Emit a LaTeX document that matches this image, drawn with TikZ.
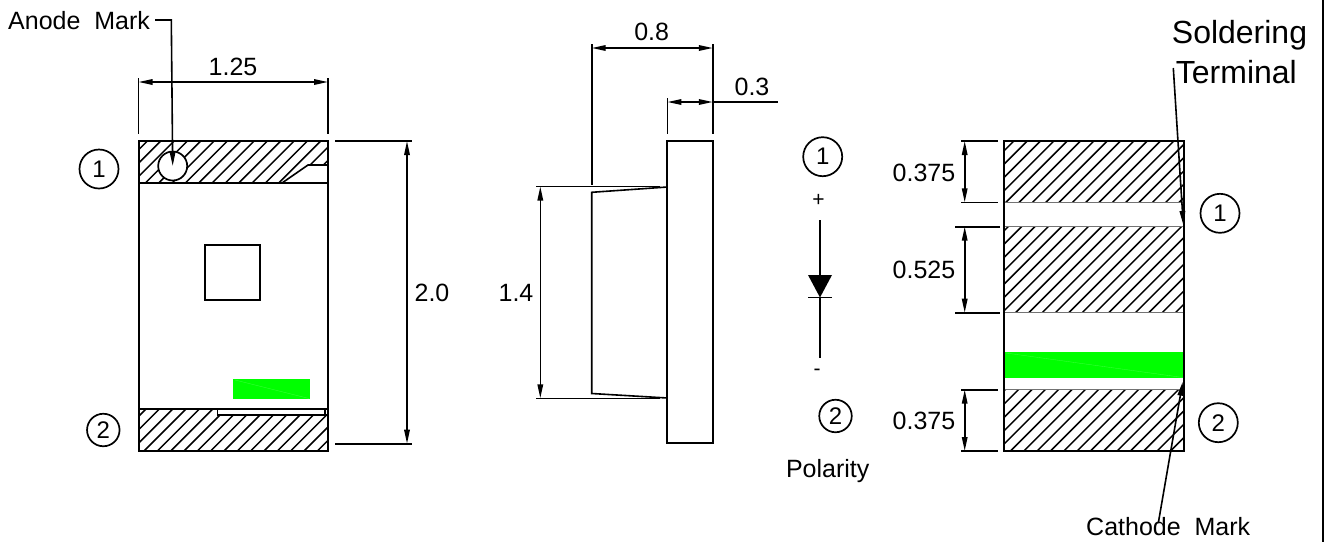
\documentclass[tikz,border=0pt]{standalone}
\usepackage{fontspec}
\setmainfont{Liberation Sans}[WordSpace=2]
\usetikzlibrary{arrows.meta}
\tikzset{
  x=1pt,y=-1pt,
  part/.style={line width=2pt,draw=black},
  thin part/.style={line width=1.6pt,draw=black},
  dim/.style={line width=1.6pt,draw=black},
  dimarrow/.style={dim,{Stealth[length=14pt,width=5.5pt,inset=0pt]}-{Stealth[length=14pt,width=5.5pt,inset=0pt]}},
  leader/.style={dim,-{Stealth[length=14pt,width=5.5pt,inset=0pt]}},
  hatchline/.style={line width=1.5pt,black},
  label/.style={font=\fontsize{25}{25}\selectfont,inner sep=0pt,anchor=base,text=black},
  big/.style={font=\fontsize{32}{32}\selectfont,inner sep=0pt,anchor=base west,text=black},
  ball/.style={circle,draw=black,line width=1.7pt,inner sep=0pt,font=\fontsize{24}{24}\selectfont,text=black},
  stripe/.style={fill=green1,draw=none},
  seam/.style={line width=.3pt,draw=green1!75!white},
}
\definecolor{green1}{RGB}{0,255,0}
\newcommand{\hatchzone}[1]{\begin{scope}\clip #1;
  \foreach \k in {20,...,125}{\draw[hatchline] ({\k*13.33+8.5},0) -- (0,{\k*13.33+8.5});}
\end{scope}}
\begin{document}
\begin{tikzpicture}
\useasboundingbox (0,0) rectangle (1328,542);
\fill[white] (0,0) rectangle (1328,542);

% ---------- left view ----------
\hatchzone{(138.5,141) -- (328,141) -- (328,165) -- (308,165) -- (282,183) -- (138.5,183) -- cycle}
\hatchzone{(138.5,409) -- (217.5,409) -- (217.5,415) -- (328,415) -- (328,451) -- (138.5,451) -- cycle}
\draw[part] (138.5,141) rectangle (328,451);
\draw[part] (138.5,183) -- (328,183);
\draw[part] (138.5,409) -- (328,409);
\draw[thin part] (282,183) -- (308,165) -- (328,165);
\draw[thin part] (217.5,409) -- (217.5,415) -- (328,415);
\draw[thin part] (325,409) -- (325,415);
\draw[thin part] (205,245) rectangle (260,300);
\path[stripe] (233,379) rectangle (310,399.3);
\draw[seam] (235,380) -- (309,398.5);
\node[ball,fill=white,minimum size=29pt] (mark) at (172.7,166) {};
\node[ball,minimum size=39pt] (a1) at (99,169) {1};
\node[ball,minimum size=32.5pt] (a2) at (103.3,430) {2};

\node[label,anchor=base west] (anode) at (8,29.3) {Anode Mark};
\coordinate (anodeT) at (155,20);
\coordinate (anodeK) at (171.3,20);
\coordinate (anodeE) at (172.7,166);
\draw[leader] (anodeT) -- (anodeK) -- (anodeE);

\node[label] (w) at (233,75) {1.25};
\coordinate (wL) at (138.5,82);
\coordinate (wR) at (328,82);
\draw[dim] (138.5,78) -- (138.5,134);
\draw[dim] (328,78) -- (328,134);
\draw[dimarrow] (wL) -- (wR);

\coordinate (hT) at (407,141);
\coordinate (hB) at (407,443.7);
\draw[dim] (335,141) -- (412,141);
\draw[dim] (335,443.7) -- (412,443.7);
\draw[dimarrow] (hT) -- (hB);
\node[label] (h) at (432,301) {2.0};

% ---------- side view ----------
\draw[part] (667.4,141.3) rectangle (712.8,443.3);
\draw[thin part] (667.4,187) -- (591.7,192.3) -- (591.7,393.5) -- (667.4,398);
\draw[dim] (536,186.5) -- (660,186.5);
\draw[dim] (536,398.3) -- (660,398.3);
\coordinate (lT) at (540.3,186.5);
\coordinate (lB) at (540.3,398.3);
\draw[dimarrow] (lT) -- (lB);
\node[label] (l) at (516,301.7) {1.4};

\draw[dim] (591.7,44) -- (591.7,185);
\draw[dim] (712.8,44) -- (712.8,134);
\coordinate (dL) at (591.7,48);
\coordinate (dR) at (712.8,48);
\draw[dimarrow] (dL) -- (dR);
\node[label] (d) at (651.7,40) {0.8};

\draw[dim] (667.4,98) -- (667.4,134);
\coordinate (tL) at (667.4,102);
\coordinate (tR) at (712.8,102);
\coordinate (tE) at (778,102);
\draw[dimarrow] (tL) -- (tR);
\draw[dim] (tR) -- (tE);
\node[label] (t) at (752,95) {0.3};

% ---------- polarity ----------
\node[ball,minimum size=39pt] (p1) at (822.7,156.7) {1};
\node[ball,minimum size=32.5pt] (p2) at (835.5,416) {2};
\node[label,font=\fontsize{21}{21}\selectfont] (plus) at (818.5,206) {+};
\node[label,font=\fontsize{21}{21}\selectfont] (minus) at (817,375) {-};
\coordinate (dT) at (820,220);
\coordinate (dA) at (820,275);
\coordinate (dC) at (820,297.5);
\coordinate (dE) at (820,358);
\draw[dim] (dT) -- (dA);
\fill[black] (808,275) -- (832,275) -- (820,297.5) -- cycle;
\draw[dim] (808,297.5) -- (832,297.5);
\draw[dim] (dC) -- (dE);
\node[label] (pol) at (827.7,477.3) {Polarity};

% ---------- right view ----------
\hatchzone{(1004.3,141) -- (1184,141) -- (1184,202.3) -- (1004.3,202.3) -- cycle}
\hatchzone{(1004.3,226.7) -- (1184,226.7) -- (1184,312.7) -- (1004.3,312.7) -- cycle}
\hatchzone{(1004.3,389.7) -- (1184,389.7) -- (1184,451) -- (1004.3,451) -- cycle}
\path[stripe] (1004.3,352.3) rectangle (1184,378.3);
\draw[seam] (1006,353) -- (1183,377.5);
\draw[line width=.8pt,draw=black!55] (1004.3,202.3) -- (1184,202.3);
\draw[line width=.8pt,draw=black!55] (1004.3,226.7) -- (1184,226.7);
\draw[line width=.8pt,draw=black!55] (1004.3,312.7) -- (1184,312.7);
\draw[line width=.8pt,draw=black!55] (1004.3,389.7) -- (1184,389.7);
\draw[part] (1004.3,141) rectangle (1184,451);

\draw[dim] (961,141) -- (998,141);
\draw[dim] (961,202.3) -- (998,202.3);
\draw[dim] (955,226.7) -- (1000,226.7);
\draw[dim] (955,312.7) -- (1000,312.7);
\draw[dim] (961,389.7) -- (998,389.7);
\draw[dim] (961,451) -- (998,451);
\coordinate (r1) at (964.7,141);
\coordinate (r2) at (964.7,202.3);
\coordinate (r3) at (964.7,226.7);
\coordinate (r4) at (964.7,312.7);
\coordinate (r5) at (964.7,389.7);
\coordinate (r6) at (964.7,451);
\draw[dimarrow] (r1) -- (r2);
\draw[dimarrow] (r3) -- (r4);
\draw[dimarrow] (r5) -- (r6);
\node[label] (r375a) at (924,181) {0.375};
\node[label] (r525) at (924,278.3) {0.525};
\node[label] (r375b) at (924,429.3) {0.375};

\node[ball,minimum size=39pt] (r1c) at (1220,213.3) {1};
\node[ball,minimum size=39pt] (r2c) at (1218.3,422.7) {2};

\node[big] (sold) at (1171.7,43) {Soldering};
\node[big] (term) at (1175.7,83) {Terminal};
\coordinate (termE) at (1173.3,68);
\coordinate (termT) at (1183.3,225);
\draw[leader] (termE) -- (termT);

\node[label,anchor=base west] (cath) at (1086,535) {Cathode Mark};
\coordinate (cathS) at (1158.3,523);
\coordinate (cathT) at (1182.7,381.7);
\draw[leader] (cathS) -- (cathT);

% ---------- frame edge ----------
\draw[line width=2pt,draw=black] (1323,0) -- (1323,542);
\end{tikzpicture}
\end{document}
